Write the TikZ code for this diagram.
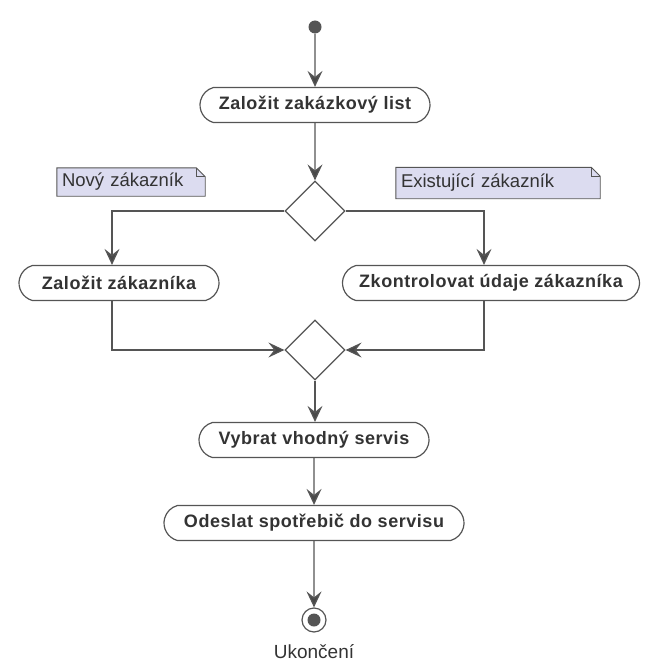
\documentclass[tikz,border=0pt]{standalone}
\usepackage{fontspec}
\setmainfont{Liberation Sans}
\usetikzlibrary{arrows.meta,shapes.geometric,shapes.misc,backgrounds}

\definecolor{linec}{HTML}{555555}
\definecolor{textc}{HTML}{333333}
\definecolor{notefill}{HTML}{DCDCF0}

\tikzset{
  action/.style={rounded rectangle, rounded rectangle arc length=150,
    draw=linec, line width=1.2pt,
    minimum height=35pt, fill=white, text=textc, inner sep=0pt,
    font=\bfseries\fontsize{18}{21}\selectfont\addfontfeature{LetterSpace=3}},
  decision/.style={diamond, aspect=1, draw=linec, line width=1.2pt,
    fill=white, minimum width=60pt, minimum height=60pt, inner sep=0pt},
  flow/.style={draw=linec, line width=1.3pt,
    -{Stealth[length=16pt, width=15pt, inset=6pt, fill=linec!85!black]}},
  notetext/.style={text=textc, inner sep=5pt, align=left,
    font=\fontsize{18.5}{21}\selectfont, minimum height=#1},
  notebox/.style={draw=linec, line width=0.9pt, fill=notefill},
}

% note outline with a folded top-right corner, drawn behind its text node
\newcommand\notefold[1]{%
  \begin{scope}[on background layer]
    \path[notebox] (#1.north west) -- ([xshift=-9pt]#1.north east)
      -- ([yshift=-9pt]#1.north east) -- (#1.south east)
      -- (#1.south west) -- cycle;
    \draw[linec, line width=0.9pt] ([xshift=-9pt]#1.north east)
      -- ([xshift=-9pt, yshift=-9pt]#1.north east)
      -- ([yshift=-9pt]#1.north east);
  \end{scope}}

\begin{document}
\begin{tikzpicture}[x=1pt, y=-1pt]
  \useasboundingbox (0,0) rectangle (647,666);

  % initial state
  \node[circle, fill=linec, minimum size=13pt, inner sep=0pt] (start) at (315,27) {};

  % actions and decisions
  \node[action, minimum width=230pt] (list) at (315,105) {Založit zakázkový list};
  \node[decision] (split) at (315,211) {};
  \node[action, minimum width=200pt] (newc) at (119,283) {Založit zákazníka};
  \node[action, minimum width=297pt] (check) at (491,283) {Zkontrolovat údaje zákazníka};
  \node[decision] (merge) at (315,350) {};
  \node[action, minimum width=230pt] (pick) at (314,440) {Vybrat vhodný servis};
  \node[action, minimum width=300pt] (send) at (314,523) {Odeslat spotřebič do servisu};

  % final state
  \node[circle, draw=linec, line width=1.2pt, fill=white, minimum size=24pt, inner sep=0pt] (end) at (314,620) {};
  \fill[linec] (end.center) circle (6.5pt);
  \node[text=textc, font=\fontsize{19}{22}\selectfont, anchor=north] (endlabel) at ([yshift=-8pt]end.south) {Ukončení};

  % guard notes
  \node[notetext=28pt, text width=138pt] (noteNew) at (131,182) {Nový zákazník};
  \notefold{noteNew}
  \node[notetext=31pt, text width=194pt] (noteOld) at (498,183) {Existující zákazník};
  \notefold{noteOld}

  % control flow
  \draw[flow] (start) -- (list);
  \draw[flow] (list) -- (split);
  \draw[flow] (split.west) -| ([xshift=-7pt]newc.north);
  \draw[flow] (split.east) -| ([xshift=-7pt]check.north);
  \draw[flow] ([xshift=-7pt]newc.south) |- (merge.west);
  \draw[flow] ([xshift=-7pt]check.south) |- (merge.east);
  \draw[flow] (merge.south) -- ([xshift=1pt]pick.north);
  \draw[flow] (pick) -- (send);
  \draw[flow] (send) -- (end);
\end{tikzpicture}
\end{document}
